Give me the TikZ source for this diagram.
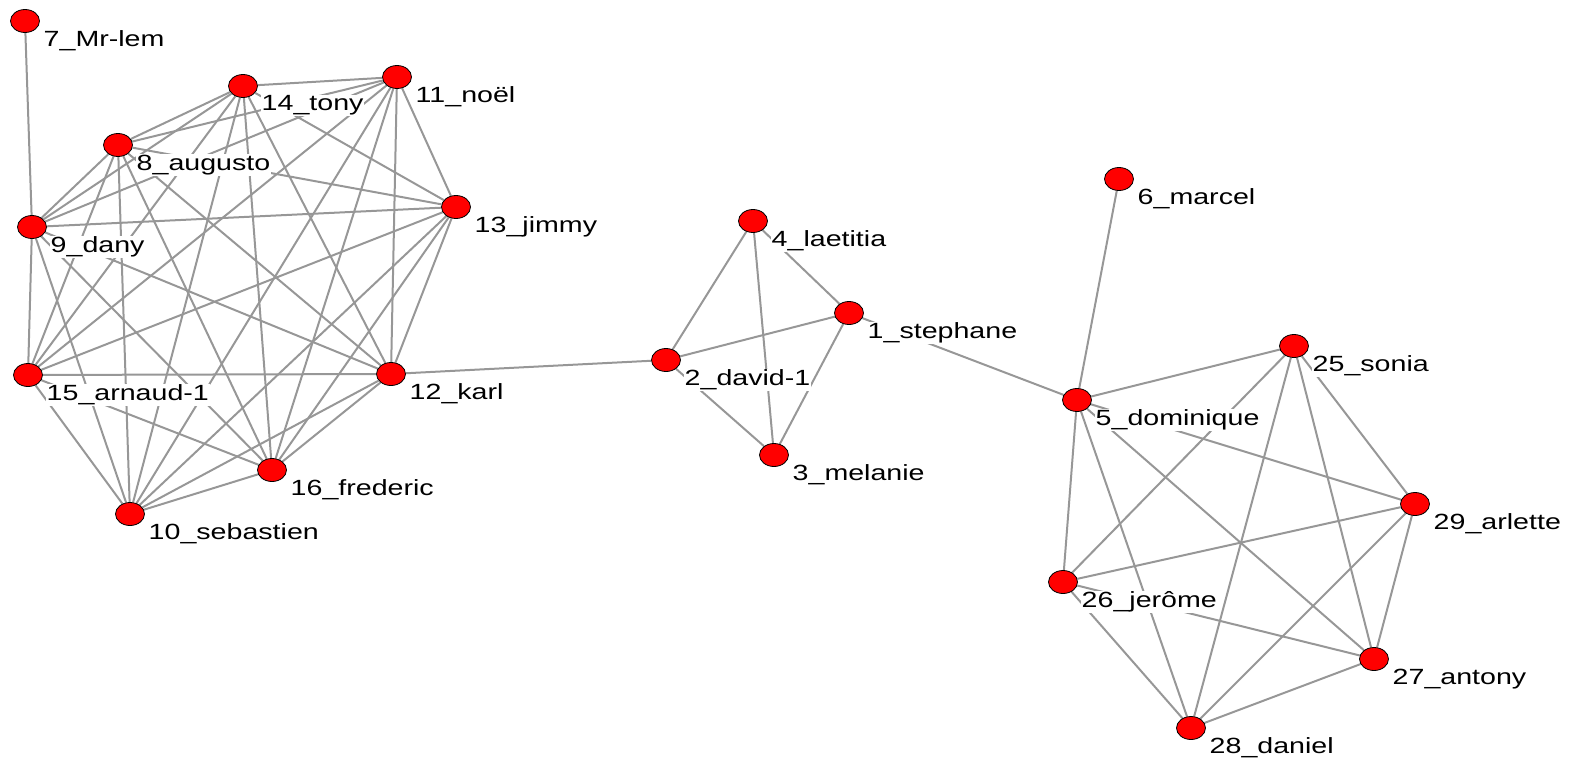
\documentclass[tikz,border=0pt]{standalone}
\usepackage{fontspec}
\setmainfont{Liberation Sans}[FakeStretch=1.3]
\usepackage{xcolor}
\definecolor{tiegray}{HTML}{979797}
\definecolor{dotred}{HTML}{FF0000}
\usepackage{tikz}
\usetikzlibrary{shapes.geometric}
\pgfdeclarelayer{background}
\pgfsetlayers{background,main}

\begin{document}
\begin{tikzpicture}[x=1pt,y=-1pt,every edge/.style={draw=tiegray,line width=2pt}]
              \tikzstyle{pers}=[ellipse,fill=dotred,draw=black,line width=0.8pt,minimum width=29pt,minimum height=23pt,inner sep=0pt]
              \tikzstyle{lbl}=[anchor=north west,xshift=17.5pt,yshift=-8.5pt,fill=white,inner sep=1pt,text=black,font=\fontsize{22}{26}\selectfont]

              \useasboundingbox (0,0) rectangle (1595,764);

              % first group
              \node[pers] (mrlem)     at (25,21)   {};
              \node[pers] (tony)      at (243,86)  {};
              \node[pers] (noel)      at (397,77)  {};
              \node[pers] (augusto)   at (118,145) {};
              \node[pers] (dany)      at (32,227)  {};
              \node[pers] (jimmy)     at (456,207) {};
              \node[pers] (arnaud)    at (28,375)  {};
              \node[pers] (karl)      at (391,374) {};
              \node[pers] (frederic)  at (272,470) {};
              \node[pers] (sebastien) at (130,514) {};

              % middle group
              \node[pers] (laetitia)  at (753,221) {};
              \node[pers] (stephane)  at (849,313) {};
              \node[pers] (david)     at (666,360) {};
              \node[pers] (melanie)   at (774,455) {};

              % last group
              \node[pers] (marcel)    at (1119,179) {};
              \node[pers] (dominique) at (1077,400) {};
              \node[pers] (sonia)     at (1294,346) {};
              \node[pers] (arlette)   at (1415,504) {};
              \node[pers] (jerome)    at (1063,582) {};
              \node[pers] (antony)    at (1374,659) {};
              \node[pers] (daniel)    at (1191,728) {};

              % names
              \node[lbl] (mrlem-t)     at (mrlem)     {7\_Mr-lem};
              \node[lbl] (tony-t)      at (tony)      {14\_tony};
              \node[lbl] (noel-t)      at (noel)      {11\_noël};
              \node[lbl] (augusto-t)   at (augusto)   {8\_augusto};
              \node[lbl] (dany-t)      at (dany)      {9\_dany};
              \node[lbl] (jimmy-t)     at (jimmy)     {13\_jimmy};
              \node[lbl] (arnaud-t)    at (arnaud)    {15\_arnaud-1};
              \node[lbl] (karl-t)      at (karl)      {12\_karl};
              \node[lbl] (frederic-t)  at (frederic)  {16\_frederic};
              \node[lbl] (sebastien-t) at (sebastien) {10\_sebastien};
              \node[lbl] (laetitia-t)  at (laetitia)  {4\_laetitia};
              \node[lbl] (stephane-t)  at (stephane)  {1\_stephane};
              \node[lbl] (david-t)     at (david)     {2\_david-1};
              \node[lbl] (melanie-t)   at (melanie)   {3\_melanie};
              \node[lbl] (marcel-t)    at (marcel)    {6\_marcel};
              \node[lbl] (dominique-t) at (dominique) {5\_dominique};
              \node[lbl] (sonia-t)     at (sonia)     {25\_sonia};
              \node[lbl] (arlette-t)   at (arlette)   {29\_arlette};
              \node[lbl] (jerome-t)    at (jerome)    {26\_jerôme};
              \node[lbl] (antony-t)    at (antony)    {27\_antony};
              \node[lbl] (daniel-t)    at (daniel)    {28\_daniel};

              \begin{pgfonlayer}{background}
              \path (mrlem) edge (dany)
                    (augusto) edge (tony) edge (noel) edge (dany) edge (jimmy) edge (arnaud)
                        edge (karl) edge (frederic) edge (sebastien)
                    (tony) edge (noel) edge (dany) edge (jimmy) edge (arnaud)
                        edge (karl) edge (frederic) edge (sebastien)
                    (noel) edge (dany) edge (jimmy) edge (arnaud)
                        edge (karl) edge (frederic) edge (sebastien)
                    (dany) edge (jimmy) edge (arnaud) edge (karl) edge (frederic) edge (sebastien)
                    (jimmy) edge (arnaud) edge (karl) edge (frederic) edge (sebastien)
                    (arnaud) edge (karl) edge (frederic) edge (sebastien)
                    (karl) edge (frederic) edge (sebastien) edge (david)
                    (frederic) edge (sebastien)
                    (laetitia) edge (stephane) edge (david) edge (melanie)
                    (david) edge (stephane) edge (melanie)
                    (melanie) edge (stephane)
                    (stephane) edge (dominique)
                    (dominique) edge (marcel) edge (sonia) edge (arlette)
                        edge (jerome) edge (antony) edge (daniel)
                    (sonia) edge (arlette) edge (jerome) edge (antony) edge (daniel)
                    (arlette) edge (jerome) edge (antony) edge (daniel)
                    (jerome) edge (antony) edge (daniel)
                    (antony) edge (daniel);
              \end{pgfonlayer}

       \end{tikzpicture}
\end{document}
